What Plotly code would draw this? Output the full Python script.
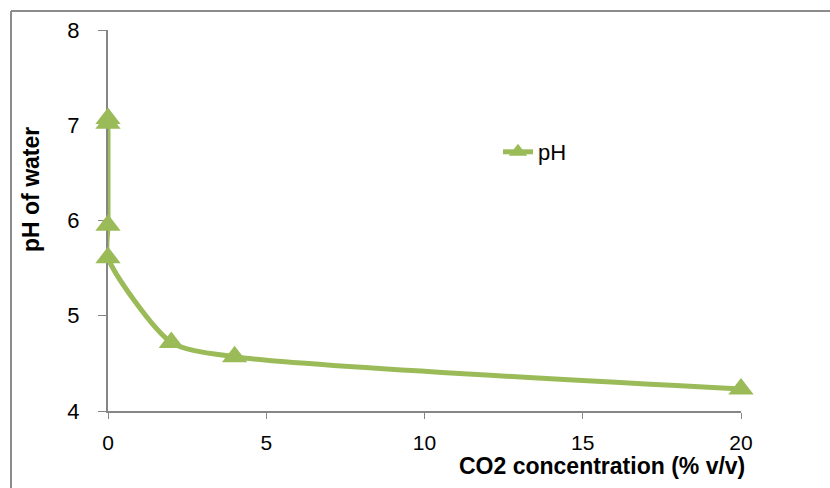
import plotly.graph_objects as go

co2 = [0, 0, 0, 0, 2, 4, 20]
ph = [7.07, 7.02, 5.95, 5.61, 4.72, 4.57, 4.23]
x_ticks = [0, 5, 10, 15, 20]
y_ticks = [4, 5, 6, 7, 8]

W, H = 830, 488
L, R, T, B = 108, 89, 30, 77
pw, ph_ = W - L - R, H - T - B

def px2x(p):
    return (p - L) / pw

def py2y(p):
    return 1 - (p - T) / ph_

green = "#9BBB59"
axis_col = "#868686"
font = "Liberation Sans"

fig = go.Figure()
fig.add_trace(go.Scatter(
    x=co2, y=ph, name="pH", mode="lines+markers", cliponaxis=False,
    line=dict(color=green, width=5, shape="spline", smoothing=0.7),
    marker=dict(symbol="triangle-up", size=22, color=green),
))

fig.update_layout(
    width=W, height=H,
    margin=dict(l=L, r=R, t=T, b=B),
    paper_bgcolor="white", plot_bgcolor="white",
    font=dict(family=font, size=21, color="black"),
    showlegend=True,
    legend=dict(x=px2x(498), y=py2y(152), xanchor="left", yanchor="middle",
                bgcolor="rgba(0,0,0,0)", font=dict(size=22, family=font)),
    xaxis=dict(range=[0, 20], tickvals=x_ticks, showgrid=False, zeroline=False,
               showline=True, linecolor=axis_col, linewidth=2, layer="below traces",
               ticks="outside", ticklen=6, tickcolor=axis_col, tickwidth=1,
               tickfont=dict(size=21), ticklabelstandoff=6),
    yaxis=dict(range=[4, 8], tickvals=y_ticks, showgrid=False, zeroline=False,
               showline=True, linecolor=axis_col, linewidth=2, layer="below traces",
               ticks="outside", ticklen=8, tickcolor=axis_col, tickwidth=1,
               tickfont=dict(size=22), ticklabelstandoff=14),
)

fig.add_annotation(text="<b>pH of water</b>", xref="paper", yref="paper",
                   x=px2x(31), y=py2y(190), showarrow=False, textangle=-90,
                   font=dict(size=23, family=font), xanchor="center", yanchor="middle")
fig.add_annotation(text="<b>CO2 concentration (% v/v)</b>", xref="paper", yref="paper",
                   x=px2x(602), y=py2y(466), showarrow=False,
                   font=dict(size=23, family=font), xanchor="center", yanchor="middle")

# outer chart frame
fig.add_shape(type="line", xref="paper", yref="paper",
              x0=px2x(11), x1=px2x(840), y0=py2y(11), y1=py2y(11),
              line=dict(color="#8C8C8C", width=2))
fig.add_shape(type="line", xref="paper", yref="paper",
              x0=px2x(11), x1=px2x(11), y0=py2y(11), y1=py2y(500),
              line=dict(color="#8C8C8C", width=2))

fig.write_html("out.html")
